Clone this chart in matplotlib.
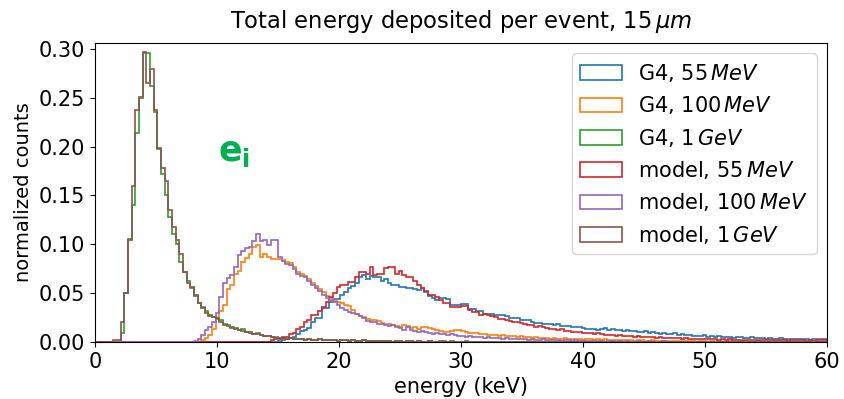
import numpy as np
import matplotlib
matplotlib.use('Agg')
import matplotlib.pyplot as plt

# histogram bins: 0.3 keV wide from 0 to 60 keV
bin_edges = np.linspace(0, 60, 201)

# normalized counts per bin, in units of 1e-3
g4_55mev = (
    [0] * 50
    + [1, 2, 3, 4, 5, 8, 11, 12, 14, 20,
       25, 25, 35, 35, 41, 44, 44, 48, 51, 55,
       57, 60, 66, 69, 64, 68, 66, 66, 62, 64,
       60, 58, 58, 56, 56, 55, 55, 54, 53, 55,
       51, 47, 45, 43, 45, 45, 44, 38, 38, 38,
       39, 39, 34, 34, 32, 32, 29, 29, 29, 28,
       28, 28, 27, 25, 25, 25, 22, 22, 22, 20,
       19, 19, 18, 18, 18, 17, 18, 16, 16, 16,
       15, 15, 15, 14, 13, 13, 13, 12, 13, 14,
       12, 13, 12, 12, 11, 12, 11, 11, 10, 10,
       11, 9, 10, 9, 8, 9, 8, 8, 9, 7,
       8, 7, 7, 6, 6, 6, 7, 5, 6, 5,
       6, 5, 5, 5, 4, 5, 5, 4, 4, 5,
       4, 4, 4, 3, 4, 3, 3, 4, 3, 3,
       3, 3, 3, 3, 3, 2, 3, 3, 3, 3]
)
g4_100mev = (
    [0] * 29
    + [2, 4, 7, 13, 25, 32, 38, 54, 58, 70,
       73, 82, 86, 90, 97, 99, 87, 90, 87, 85,
       85, 85, 84, 82, 81, 77, 72, 70, 68, 64,
       60, 57, 54, 51, 47, 45, 42, 41, 40, 38,
       37, 33, 29, 27, 26, 24, 23, 22, 21, 19,
       18, 18, 17, 16, 15, 17, 16, 14, 15, 13,
       15, 15, 14, 13, 12, 11, 10, 10, 11, 12,
       12, 11, 10, 9, 9, 9, 8, 8, 7, 7,
       7, 6, 7, 6, 6, 6, 5, 6, 5, 5,
       4, 5, 4, 4, 4, 3, 4, 3, 3, 4,
       3, 3, 3, 3, 2, 3, 3, 2, 3, 2,
       3, 2, 2, 2, 2, 2, 2, 2, 1, 2,
       2, 1, 1, 2, 1, 1, 1, 1, 1, 1,
       1, 1, 1, 1, 1, 0, 1, 1, 0, 1,
       0, 1, 0, 0, 1, 0, 0, 1, 0, 0,
       0, 0, 1, 0, 0, 0, 0, 0, 0, 0,
       0, 0, 0, 0, 0, 0, 0, 0, 0, 0,
       0]
)
g4_1gev = (
    [0] * 7
    + [9, 50, 105, 140, 214, 250, 296, 296, 262, 235,
       197, 172, 150, 128, 110, 100, 82, 72, 62, 55,
       47, 40, 36, 32, 28, 26, 24, 22, 18, 17,
       15, 14, 12, 13, 10, 10, 8, 9, 7, 6,
       6, 5, 5, 4, 4, 3, 4, 3, 3, 3,
       2, 3, 2, 2, 3, 2, 2, 2, 2, 1,
       2, 2, 1, 2, 1, 1, 2, 1, 1, 1,
       1, 1, 1, 1, 0, 1, 1, 0, 1, 1,
       0, 1, 0, 0, 1, 0, 0, 0, 1, 0]
    + [0] * 103
)
model_55mev = (
    [0] * 48
    + [2, 3, 3, 5, 5, 8, 9, 13, 15, 20,
       22, 28, 28, 32, 36, 41, 46, 50, 56, 58,
       58, 61, 61, 67, 72, 72, 70, 77, 69, 70,
       70, 76, 77, 77, 70, 73, 69, 66, 66, 62,
       58, 55, 52, 48, 48, 46, 43, 40, 40, 36,
       36, 36, 37, 37, 33, 31, 31, 28, 29, 28,
       27, 26, 24, 24, 23, 21, 20, 20, 19, 18,
       17, 17, 15, 16, 15, 14, 13, 13, 12, 13,
       11, 11, 10, 10, 10, 9, 9, 9, 8, 9,
       8, 7, 7, 7, 6, 7, 6, 6, 6, 5,
       6, 5, 5, 5, 5, 4, 5, 4, 4, 4,
       4, 4, 3, 4, 3, 3, 3, 3, 3, 3,
       3, 3, 2, 3, 2, 3, 2, 2, 2, 2,
       2, 2, 2, 2, 2, 2, 2, 2, 2, 2,
       2, 1, 2, 2, 2, 2, 1, 2, 1, 2,
       2, 2]
)
model_100mev = (
    [0] * 27
    + [1, 3, 7, 12, 15, 20, 30, 46, 60, 65,
       69, 77, 89, 93, 96, 97, 103, 110, 103, 104,
       99, 104, 104, 87, 83, 80, 79, 75, 70, 68,
       66, 62, 58, 55, 52, 48, 45, 43, 41, 38,
       35, 33, 31, 30, 29, 27, 25, 21, 20, 20,
       18, 18, 17, 16, 17, 15, 14, 12, 15, 12,
       11, 10, 11, 10, 9, 8, 9, 8, 8, 7,
       8, 7, 6, 6, 5, 6, 5, 5, 5, 4,
       5, 4, 4, 4, 3, 4, 3, 3, 3, 3,
       3, 2, 3, 2, 2, 3, 2, 2, 2, 2,
       1, 2, 2, 1, 2, 1, 1, 1, 1, 1,
       1, 1, 0, 1, 1, 0, 1, 0, 1, 0,
       0, 1, 0, 0, 1, 0, 0, 0, 1, 0,
       0, 0, 0, 0, 0, 0, 0, 0, 0, 0,
       0, 0, 0, 0, 0, 0, 0, 0, 0, 0,
       0, 0, 0, 0, 0, 0, 0, 0, 0, 0,
       0, 0, 0, 0, 0, 0, 0, 0, 0, 0,
       0, 0, 0]
)
model_1gev = (
    [0] * 5
    + [2, 2, 20, 50, 104, 160, 237, 251, 297, 265,
       279, 237, 199, 178, 165, 135, 118, 104, 90, 72,
       60, 56, 48, 40, 35, 30, 27, 26, 25, 20,
       17, 16, 14, 13, 12, 11, 10, 9, 8, 8,
       7, 6, 6, 5, 4, 4, 4, 3, 4, 3,
       3, 3, 2, 3, 2, 2, 3, 2, 2, 2,
       2, 1, 2, 2, 1, 2, 1, 1, 2, 1,
       1, 1, 1, 1, 1, 1, 0, 1, 1, 0,
       1, 1, 0, 1, 0, 0, 1, 0, 0, 1,
       0, 0, 1, 0, 0, 0, 1, 0, 0, 0]
    + [0] * 95
)

series = [
    (g4_55mev, 'G4, $55\\,MeV$'),
    (g4_100mev, 'G4, $100\\,MeV$'),
    (g4_1gev, 'G4, $1\\,GeV$'),
    (model_55mev, 'model, $55\\,MeV$'),
    (model_100mev, 'model, $100\\,MeV$'),
    (model_1gev, 'model, $1\\,GeV$'),
]
colors = ['#1f77b4', '#ff7f0e', '#2ca02c', '#d62728', '#9467bd', '#8c564b']

plt.rcParams['font.size'] = 15

fig = plt.figure(figsize=(8.44, 3.99), dpi=100)
ax = fig.add_axes([0.1126, 0.1429, 0.8673, 0.7495])

centers = 0.5 * (bin_edges[:-1] + bin_edges[1:])
for (vals, label), c in zip(series, colors):
    ax.hist(centers, bins=bin_edges, weights=np.array(vals) / 1000.0,
            histtype='step', color=c, linewidth=1.2, label=label)

# particle label
ax.text(11.4, 0.194, '$\\mathbf{e_i}$', color='#00b050', fontsize=25,
        ha='center', va='center')

ax.set_xlim(0, 60)
ax.set_ylim(0, 0.306)
ax.set_yticks([0, 0.05, 0.10, 0.15, 0.20, 0.25, 0.30])
ax.set_title('Total energy deposited per event, $15\\,\\mu m$', fontsize=16.3, pad=11)
ax.set_xlabel('energy (keV)')
ax.set_ylabel('normalized counts', fontsize=14)
ax.legend(loc='upper right')

fig.savefig('out.png', dpi=100)
